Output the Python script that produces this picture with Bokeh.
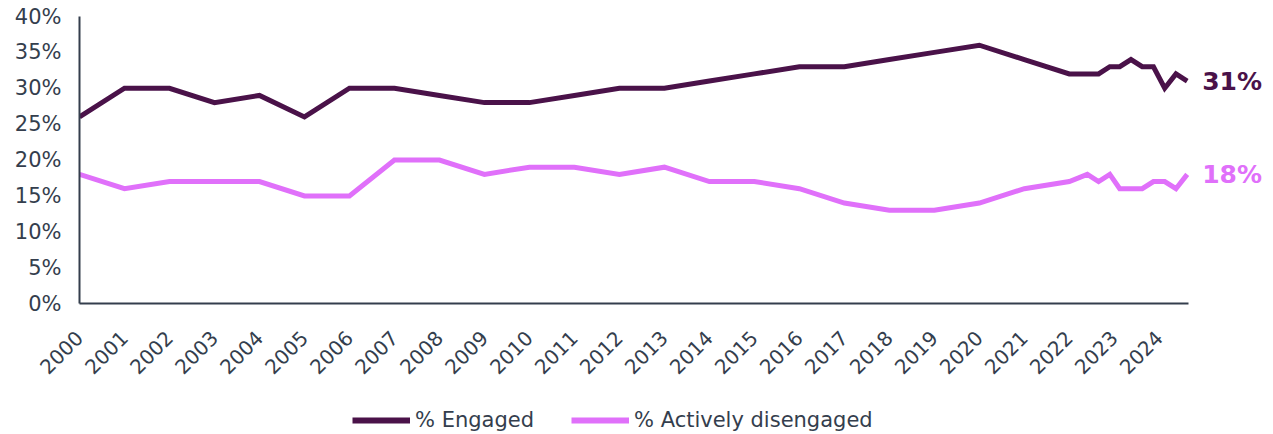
import math
from bokeh.plotting import figure
from bokeh.layouts import column
from bokeh.models import Range1d, FixedTicker, Legend, LegendItem, Label
from bokeh.embed import file_html
from bokeh.resources import INLINE

# ---- data ----
periods = [2000, 2001, 2002, 2003, 2004, 2005, 2006, 2007, 2008, 2009, 2010,
           2011, 2012, 2013, 2014, 2015, 2016, 2017, 2018, 2019, 2020, 2021,
           2022, 2022.4, 2022.65, 2022.9, 2023.12, 2023.37, 2023.62, 2023.87,
           2024.12, 2024.37, 2024.62]
engaged = [26, 30, 30, 28, 29, 26, 30, 30, 29, 28, 28,
           29, 30, 30, 31, 32, 33, 33, 34, 35, 36, 34,
           32, 32, 32, 33, 33, 34, 33, 33,
           30, 32, 31]
disengaged = [18, 16, 17, 17, 17, 15, 15, 20, 20, 18, 19,
              19, 18, 19, 17, 17, 16, 14, 13, 13, 14, 16,
              17, 18, 17, 18, 16, 16, 16, 17,
              17, 16, 18]
series_names = ["% Engaged", "% Actively disengaged"]
year_ticks = list(range(2000, 2025))
pct_ticks = [0, 5, 10, 15, 20, 25, 30, 35, 40]
pct_labels = [f"{t}%" for t in pct_ticks]

ENG_COLOR = "#4A1249"
DIS_COLOR = "#E070FA"
AXIS_COLOR = "#343E4D"
FONT = "DejaVu Sans"

X_END_AXIS = 2024.65   # where the x axis line stops
X_END_VIEW = 2026.36   # room on the right for the end labels

# ---------------- main chart ----------------
p = figure(width=1273, height=384, output_backend="svg", toolbar_location=None,
           x_range=Range1d(2000, X_END_VIEW), y_range=Range1d(0, 40))
p.min_border_left = 79
p.min_border_right = 8
p.min_border_top = 16
p.min_border_bottom = 81
p.outline_line_color = None
p.grid.visible = False
p.background_fill_color = "white"
p.border_fill_color = "white"

p.line(periods, engaged, line_color=ENG_COLOR, line_width=5, line_join="miter")
p.line(periods, disengaged, line_color=DIS_COLOR, line_width=5, line_join="miter")

p.xaxis.ticker = FixedTicker(ticks=year_ticks)
p.xaxis.bounds = (2000, X_END_AXIS)
p.xaxis.major_label_orientation = math.pi / 4
p.yaxis.ticker = FixedTicker(ticks=pct_ticks)
p.yaxis.major_label_overrides = {t: l for t, l in zip(pct_ticks, pct_labels)}
for ax in (p.xaxis, p.yaxis):
    ax.axis_line_color = AXIS_COLOR
    ax.axis_line_width = 2
    ax.major_tick_line_color = None
    ax.major_tick_out = 0
    ax.major_tick_in = 0
    ax.minor_tick_line_color = None
    ax.major_label_text_font = FONT
    ax.major_label_text_font_size = "20px"
    ax.major_label_text_color = AXIS_COLOR
p.yaxis.major_label_text_font_size = "21px"
p.yaxis.major_label_standoff = 18
p.xaxis.major_label_standoff = 31

for series, color in ((engaged, ENG_COLOR), (disengaged, DIS_COLOR)):
    p.add_layout(Label(x=periods[-1], y=series[-1], text=f"{series[-1]}%",
                       x_offset=15, text_baseline="middle", text_align="left",
                       text_font=FONT, text_font_style="bold",
                       text_font_size="25px", text_color=color))

# ---------------- legend strip ----------------
pl = figure(width=1273, height=50, output_backend="svg", toolbar_location=None,
            x_range=Range1d(0, 1), y_range=Range1d(0, 1),
            x_axis_type=None, y_axis_type=None, min_border=0)
pl.outline_line_color = None
pl.grid.visible = False
pl.border_fill_color = "white"
# series drawn outside this strip's view; only their legend swatches show
l_eng = pl.line(periods, engaged, line_color=ENG_COLOR, line_width=6)
l_dis = pl.line(periods, disengaged, line_color=DIS_COLOR, line_width=6)
legend = Legend(items=[LegendItem(label=series_names[0], renderers=[l_eng]),
                       LegendItem(label=series_names[1], renderers=[l_dis])],
                orientation="horizontal", location=(273, 2),
                glyph_width=58, glyph_height=20, label_standoff=5, spacing=37,
                label_text_font=FONT, label_text_font_size="21px",
                label_text_color=AXIS_COLOR, border_line_color=None,
                background_fill_alpha=0, margin=0, padding=0)
pl.add_layout(legend, "center")

layout = column(p, pl, spacing=0)
open("out.html", "w").write(file_html(layout, INLINE))
